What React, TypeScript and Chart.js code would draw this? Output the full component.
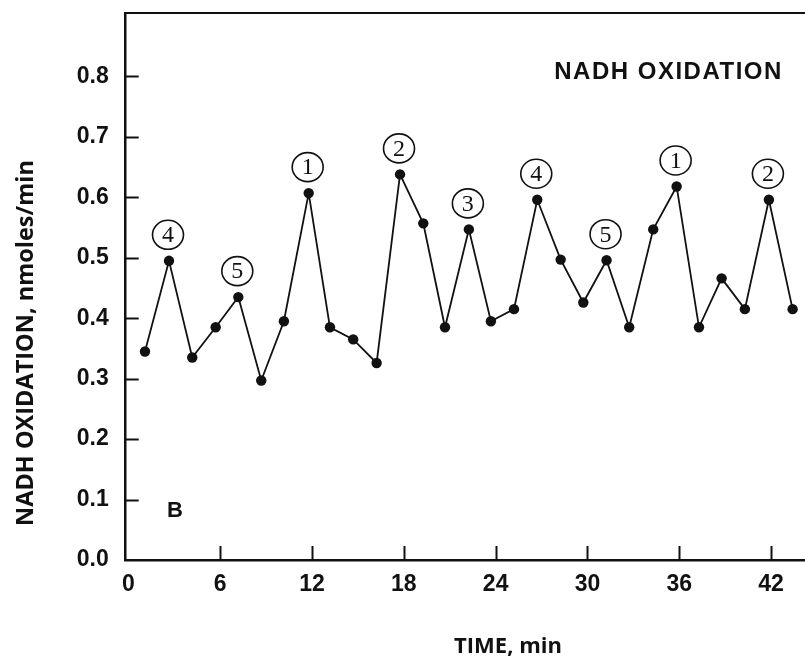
import React, { useEffect, useRef } from "react";
import { Chart, registerables } from "chart.js";

Chart.register(...registerables);

// ---- data ----
const times = [
  1.08, 2.65, 4.17, 5.7, 7.18, 8.68, 10.16, 11.78, 13.17, 14.69, 16.22, 17.75,
  19.27, 20.69, 22.25, 23.69, 25.2, 26.72, 28.25, 29.73, 31.25, 32.73, 34.3,
  35.83, 37.29, 38.77, 40.29, 41.86, 43.41,
];
const nadhRates = [
  0.345, 0.495, 0.335, 0.385, 0.435, 0.297, 0.395, 0.607, 0.385, 0.365, 0.326,
  0.638, 0.557, 0.385, 0.547, 0.395, 0.415, 0.596, 0.497, 0.426, 0.496, 0.385,
  0.547, 0.618, 0.385, 0.466, 0.415, 0.596, 0.415,
];
const xTicks = [0, 6, 12, 18, 24, 30, 36, 42];
const yTicks = [0, 0.1, 0.2, 0.3, 0.4, 0.5, 0.6, 0.7, 0.8];
const peakIndices = [1, 4, 7, 11, 14, 17, 20, 23, 27];
const peakLabels = ["4", "5", "1", "2", "3", "4", "5", "1", "2"];
const panelTitle = "NADH OXIDATION";
const panelTitlePos = { x: 35.3, y: 0.807 };
const panelLetter = "B";
const panelLetterPos = { x: 3.04, y: 0.081 };
const xTitle = "TIME, min";
const yTitle = "NADH OXIDATION, nmoles/min";

const INK = "#111111";

const decorPlugin = {
  id: "decor",
  afterDraw(chart: any) {
    const { ctx, chartArea: a, scales } = chart;
    const x = scales.x;
    const y = scales.y;
    ctx.save();
    ctx.strokeStyle = INK;
    ctx.fillStyle = INK;

    // top frame line
    ctx.lineWidth = 2;
    ctx.beginPath();
    ctx.moveTo(a.left - 1, a.top);
    ctx.lineTo(chart.width, a.top);
    ctx.stroke();

    // inward tick marks
    ctx.lineWidth = 2;
    xTicks.forEach((v) => {
      if (v === 0) return;
      const px = Math.round(x.getPixelForValue(v)) + 0.5;
      ctx.beginPath();
      ctx.moveTo(px, a.bottom);
      ctx.lineTo(px, a.bottom - 14);
      ctx.stroke();
    });
    yTicks.forEach((v) => {
      if (v === 0) return;
      const py = Math.round(y.getPixelForValue(v)) + 0.5;
      ctx.beginPath();
      ctx.moveTo(a.left, py);
      ctx.lineTo(a.left + 13, py);
      ctx.stroke();
    });

    // circled peak numbers
    const meta = chart.getDatasetMeta(0);
    ctx.lineWidth = 1.6;
    ctx.font = "24px 'Liberation Serif', 'DejaVu Serif', serif";
    ctx.textAlign = "center";
    ctx.textBaseline = "middle";
    peakIndices.forEach((idx, k) => {
      const pt = meta.data[idx];
      const cx = pt.x - 1;
      const cy = pt.y - 26;
      ctx.beginPath();
      ctx.ellipse(cx, cy, 15.5, 14.5, 0, 0, Math.PI * 2);
      ctx.stroke();
      ctx.fillText(peakLabels[k], cx, cy + 1);
    });

    // panel title
    ctx.font = "bold 24px 'Liberation Sans', Arial, sans-serif";
    (ctx as any).letterSpacing = "1.5px";
    ctx.fillText(
      panelTitle,
      x.getPixelForValue(panelTitlePos.x),
      y.getPixelForValue(panelTitlePos.y)
    );
    (ctx as any).letterSpacing = "0px";

    // panel letter
    ctx.font = "bold 22px 'Liberation Sans', Arial, sans-serif";
    ctx.fillText(
      panelLetter,
      x.getPixelForValue(panelLetterPos.x),
      y.getPixelForValue(panelLetterPos.y)
    );

    // axis titles
    ctx.font = "bold 22px 'Open Sans', 'Liberation Sans', sans-serif";
    ctx.fillText(xTitle, 508, 647);
    ctx.save();
    ctx.translate(26, 343);
    ctx.rotate(-Math.PI / 2);
    ctx.font = "bold 23.5px 'Open Sans', 'Liberation Sans', sans-serif";
    ctx.fillText(yTitle, 0, 0);
    ctx.restore();

    ctx.restore();
  },
};

export default function App() {
  const canvasRef = useRef<HTMLCanvasElement | null>(null);

  useEffect(() => {
    document.body.style.margin = "0";
    const canvas = canvasRef.current;
    if (!canvas) return;
    const tickFont = {
      family: "'Liberation Sans', Arial, sans-serif",
      size: 23,
      weight: "bold" as const,
    };
    const chart = new Chart(canvas, {
      type: "line",
      data: {
        datasets: [
          {
            data: times.map((t, i) => ({ x: t, y: nadhRates[i] })),
            borderColor: INK,
            borderWidth: 1.8,
            backgroundColor: INK,
            pointBackgroundColor: INK,
            pointBorderColor: INK,
            pointRadius: 5.2,
            pointBorderWidth: 0,
            tension: 0,
            fill: false,
          },
        ],
      },
      options: {
        animation: false,
        responsive: false,
        maintainAspectRatio: false,
        devicePixelRatio: 1,
        layout: { autoPadding: false, padding: { top: 13, right: 0, left: 0, bottom: 0 } },
        plugins: {
          legend: { display: false },
          tooltip: { enabled: false },
        },
        scales: {
          x: {
            type: "linear",
            min: -0.18,
            max: 44.22,
            afterBuildTicks: (s: any) => {
              s.ticks = xTicks.map((v) => ({ value: v }));
            },
            afterFit: (s: any) => {
              s.height = 102;
              s.paddingLeft = 0;
              s.paddingRight = 0;
            },
            grid: { display: false },
            border: { display: true, color: INK, width: 2.5 },
            ticks: {
              color: INK,
              font: tickFont,
              padding: 3,
              maxRotation: 0,
              autoSkip: false,
              callback: (v: any) => String(v),
            },
          },
          y: {
            type: "linear",
            min: 0,
            max: 0.905,
            afterBuildTicks: (s: any) => {
              s.ticks = yTicks.map((v) => ({ value: v }));
            },
            afterFit: (s: any) => {
              s.width = 125.7;
              s.paddingTop = 0;
              s.paddingBottom = 0;
            },
            grid: { display: false },
            border: { display: true, color: INK, width: 2.5 },
            ticks: {
              color: INK,
              font: tickFont,
              padding: 9,
              autoSkip: false,
              callback: (v: any) => Number(v).toFixed(1),
            },
          },
        },
      },
      plugins: [decorPlugin],
    });
    return () => chart.destroy();
  }, []);

  return (
    <div style={{ width: 805, height: 662, background: "#fff" }}>
      <canvas ref={canvasRef} width={805} height={662} style={{ display: "block" }} />
    </div>
  );
}
